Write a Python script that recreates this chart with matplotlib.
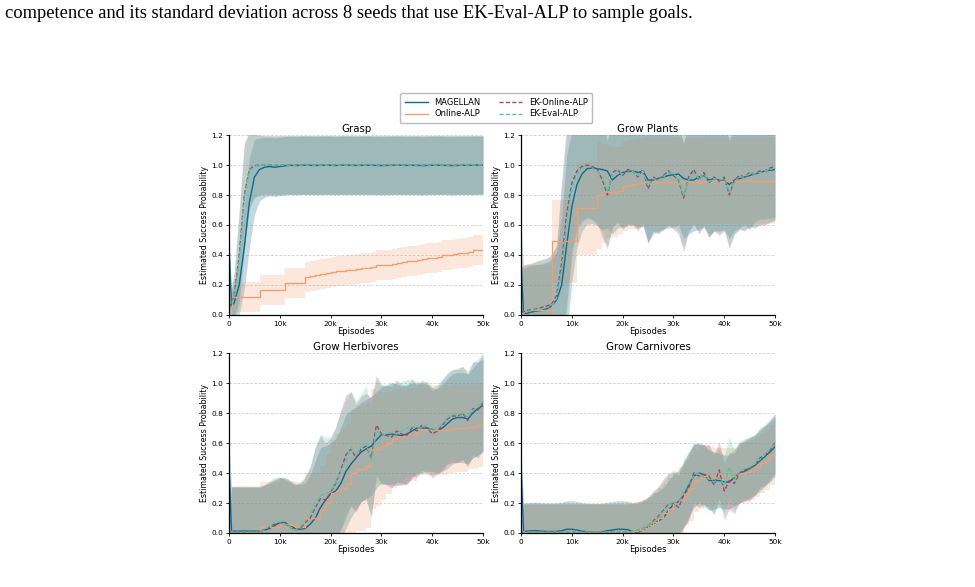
import matplotlib
matplotlib.use('Agg')
import matplotlib.pyplot as plt
from matplotlib.lines import Line2D
from matplotlib.ticker import FixedLocator, FuncFormatter

"""
Success probability curves for the four goal families
"""

CAPTION = ('competence and its standard deviation across 8 seeds '
           'that use EK-Eval-ALP to sample goals.')

METHODS = ['MAGELLAN', 'Online-ALP', 'EK-Online-ALP', 'EK-Eval-ALP']
PANELS = ['Grasp', 'Grow Plants', 'Grow Herbivores', 'Grow Carnivores']

# episodes (sampled every 1k, plus the first half-k)
EPISODES = [0, 500] + list(range(1000, 50001, 1000))

# ---------------- Grasp ----------------
GRASP_MAG = [0.45, 0.06,
             0.08, 0.20, 0.45, 0.75, 0.92, 0.97, 0.985, 0.99, 0.985, 0.99,
             0.995, 0.998, 0.997, 0.998, 0.999, 0.998, 0.997, 0.998, 0.999, 0.998,
             0.997, 0.998, 0.999, 0.998, 0.997, 0.998, 0.999, 0.998, 0.997, 0.996,
             0.997, 0.998, 0.999, 0.998, 0.997, 0.998, 0.997, 0.996, 0.997, 0.998,
             0.999, 0.998, 0.997, 0.996, 0.997, 0.998, 0.997, 0.998, 0.999, 0.998]
GRASP_MAG_STD = [0.15, 0.10,
                 0.12, 0.20, 0.28, 0.30, 0.25, 0.21, 0.20, 0.195, 0.195, 0.195] + [0.195] * 40
GRASP_ONL = [0.05, 0.12,
             0.12, 0.12, 0.12, 0.12, 0.12, 0.165, 0.165, 0.165, 0.165, 0.165,
             0.215, 0.215, 0.215, 0.215, 0.255, 0.26, 0.265, 0.27, 0.28, 0.285,
             0.29, 0.295, 0.30, 0.30, 0.305, 0.31, 0.315, 0.32, 0.33, 0.33,
             0.335, 0.34, 0.345, 0.355, 0.36, 0.36, 0.365, 0.375, 0.38, 0.38,
             0.385, 0.40, 0.40, 0.405, 0.41, 0.415, 0.42, 0.43, 0.432, 0.435]
GRASP_ONL_STD = [0.05, 0.10] + [0.10] * 50
GRASP_EKO = [0.05, 0.08,
             0.13, 0.40, 0.80, 0.97, 0.995, 1.0, 1.0, 1.0, 1.0, 1.0] + [1.0] * 40
GRASP_EKO_STD = [0.05, 0.10,
                 0.15, 0.30, 0.35, 0.25, 0.21, 0.20, 0.195, 0.195, 0.195, 0.195] + [0.195] * 40
GRASP_EKE = [0.04, 0.07,
             0.12, 0.37, 0.78, 0.96, 0.99, 0.998, 1.0, 1.0, 1.0, 1.0] + [1.0] * 40
GRASP_EKE_STD = [0.05, 0.10,
                 0.15, 0.30, 0.35, 0.26, 0.21, 0.20, 0.195, 0.195, 0.195, 0.195] + [0.195] * 40

# ---------------- Grow Plants ----------------
PLANTS_MAG = [0.35, 0.01,
              0.01, 0.02, 0.025, 0.03, 0.04, 0.06, 0.10, 0.20, 0.47, 0.72,
              0.87, 0.94, 0.975, 0.98, 0.975, 0.97, 0.96, 0.90, 0.93, 0.95,
              0.955, 0.96, 0.95, 0.96, 0.90, 0.90, 0.91, 0.92, 0.93, 0.935,
              0.94, 0.91, 0.90, 0.90, 0.92, 0.93, 0.90, 0.91, 0.90, 0.90,
              0.87, 0.90, 0.91, 0.92, 0.93, 0.94, 0.95, 0.96, 0.965, 0.97]
PLANTS_MAG_STD = [0.25, 0.30,
                  0.31, 0.31, 0.31, 0.31, 0.31, 0.31, 0.32, 0.45, 0.60, 0.50,
                  0.42, 0.38, 0.37, 0.37, 0.38, 0.40, 0.38, 0.36, 0.35, 0.36,
                  0.36, 0.36, 0.36, 0.37, 0.42, 0.36, 0.35, 0.35, 0.35, 0.35,
                  0.34, 0.40, 0.36, 0.34, 0.35, 0.34, 0.38, 0.35, 0.34, 0.33,
                  0.36, 0.34, 0.33, 0.32, 0.36, 0.32, 0.31, 0.32, 0.32, 0.32]
PLANTS_ONL = [0.02, 0.03,
              0.03, 0.03, 0.03, 0.03, 0.03, 0.49, 0.49, 0.49, 0.49, 0.49,
              0.71, 0.71, 0.71, 0.71, 0.80, 0.81, 0.82, 0.82, 0.83, 0.86,
              0.87, 0.875, 0.88, 0.885, 0.89, 0.89, 0.89, 0.89, 0.89, 0.89,
              0.89, 0.89, 0.89, 0.89, 0.89, 0.895, 0.895, 0.895, 0.895, 0.895,
              0.895, 0.895, 0.895, 0.895, 0.895, 0.895, 0.895, 0.895, 0.895, 0.895]
PLANTS_ONL_STD = [0.30, 0.30,
                  0.30, 0.30, 0.30, 0.30, 0.30, 0.28, 0.28, 0.28, 0.28, 0.28,
                  0.31, 0.31, 0.31, 0.31, 0.36, 0.33, 0.31, 0.30, 0.29, 0.30,
                  0.30, 0.30, 0.30, 0.30, 0.30, 0.30, 0.30, 0.30, 0.30, 0.30] + [0.29] * 20
PLANTS_EKO = [0.02, 0.02,
              0.03, 0.035, 0.04, 0.05, 0.06, 0.07, 0.13, 0.35, 0.68, 0.88,
              0.96, 0.99, 1.0, 0.99, 0.97, 0.90, 0.80, 0.95, 0.97, 0.93,
              0.97, 0.96, 0.92, 0.97, 0.84, 0.92, 0.90, 0.93, 0.96, 0.93,
              0.90, 0.78, 0.92, 0.97, 0.90, 0.95, 0.88, 0.92, 0.89, 0.92,
              0.80, 0.90, 0.93, 0.92, 0.95, 0.94, 0.96, 0.96, 0.98, 0.99]
PLANTS_EKO_STD = [0.30, 0.31,
                  0.31, 0.31, 0.32, 0.32, 0.32, 0.33, 0.34, 0.55, 0.60, 0.45,
                  0.38, 0.36, 0.35, 0.35, 0.36, 0.38, 0.36, 0.36, 0.35, 0.36] + [0.36] * 30
PLANTS_EKE = [0.01, 0.01,
              0.02, 0.03, 0.035, 0.04, 0.05, 0.06, 0.11, 0.30, 0.62, 0.84,
              0.94, 0.98, 0.99, 0.98, 0.96, 0.93, 0.82, 0.94, 0.96, 0.94,
              0.95, 0.96, 0.93, 0.96, 0.86, 0.91, 0.90, 0.92, 0.95, 0.94,
              0.91, 0.80, 0.90, 0.95, 0.91, 0.94, 0.89, 0.91, 0.90, 0.91,
              0.82, 0.89, 0.92, 0.92, 0.94, 0.94, 0.95, 0.96, 0.97, 0.98]
PLANTS_EKE_STD = [0.30, 0.31,
                  0.31, 0.31, 0.32, 0.32, 0.32, 0.33, 0.35, 0.55, 0.60, 0.46,
                  0.38, 0.36, 0.35, 0.35, 0.36, 0.37, 0.36, 0.36, 0.35, 0.36] + [0.35] * 30

# ---------------- Grow Herbivores ----------------
HERB_MAG = [0.45, 0.01,
            0.012, 0.012, 0.013, 0.012, 0.012, 0.012, 0.02, 0.03, 0.05, 0.07,
            0.07, 0.05, 0.03, 0.025, 0.03, 0.06, 0.10, 0.17, 0.22, 0.26,
            0.28, 0.33, 0.41, 0.46, 0.50, 0.54, 0.56, 0.58, 0.62, 0.655,
            0.655, 0.66, 0.655, 0.65, 0.66, 0.68, 0.70, 0.70, 0.70, 0.69,
            0.68, 0.70, 0.73, 0.76, 0.77, 0.77, 0.76, 0.80, 0.83, 0.85]
HERB_MAG_STD = [0.15, 0.30] + [0.30] * 15 + [
    0.33, 0.38, 0.40, 0.36, 0.34,
    0.35, 0.37, 0.38, 0.36, 0.34, 0.33, 0.33, 0.33, 0.32, 0.32,
    0.33, 0.34, 0.34, 0.33, 0.33, 0.32, 0.30, 0.30, 0.29, 0.28,
    0.28, 0.29, 0.30, 0.30, 0.30, 0.30, 0.30, 0.30, 0.31, 0.31]
HERB_ONL = [0.01, 0.005,
            0.005, 0.005, 0.005, 0.005, 0.005, 0.04, 0.04, 0.04, 0.04, 0.06,
            0.06, 0.05, 0.04, 0.04, 0.10, 0.10, 0.10, 0.15, 0.20, 0.27,
            0.28, 0.30, 0.33, 0.40, 0.43, 0.43, 0.45, 0.56, 0.56, 0.58,
            0.60, 0.63, 0.64, 0.64, 0.655, 0.66, 0.69, 0.69, 0.69, 0.69,
            0.69, 0.69, 0.69, 0.70, 0.70, 0.70, 0.71, 0.71, 0.72, 0.725]
HERB_ONL_STD = [0.30, 0.30] + [0.30] * 18 + [
    0.33, 0.35, 0.38, 0.40, 0.40, 0.42, 0.42, 0.42, 0.42, 0.40, 0.38, 0.36,
    0.34, 0.33, 0.32, 0.31, 0.31, 0.31, 0.30, 0.30, 0.30, 0.30,
    0.30, 0.30, 0.29, 0.29, 0.29, 0.29, 0.28, 0.28, 0.28, 0.28]
HERB_EKO = [0.01, 0.005,
            0.005, 0.005, 0.005, 0.005, 0.005, 0.005, 0.02, 0.04, 0.06, 0.07,
            0.06, 0.04, 0.02, 0.03, 0.07, 0.10, 0.17, 0.23, 0.22, 0.27,
            0.33, 0.42, 0.52, 0.56, 0.50, 0.56, 0.58, 0.50, 0.72, 0.66,
            0.65, 0.64, 0.68, 0.66, 0.65, 0.70, 0.68, 0.72, 0.70, 0.66,
            0.68, 0.72, 0.76, 0.78, 0.78, 0.80, 0.75, 0.83, 0.82, 0.87]
HERB_EKO_STD = [0.10, 0.30] + [0.30] * 15 + [
    0.34, 0.40, 0.42, 0.38, 0.36,
    0.37, 0.40, 0.40, 0.38, 0.36, 0.35, 0.35, 0.40, 0.33, 0.33,
    0.33, 0.34, 0.34, 0.33, 0.33, 0.32, 0.31, 0.30, 0.30, 0.29,
    0.29, 0.30, 0.30, 0.31, 0.31, 0.31, 0.31, 0.31, 0.32, 0.32]
HERB_EKE = [0.01, 0.005,
            0.005, 0.005, 0.005, 0.005, 0.005, 0.005, 0.02, 0.05, 0.07, 0.075,
            0.06, 0.04, 0.02, 0.04, 0.08, 0.12, 0.19, 0.25, 0.26, 0.28,
            0.34, 0.42, 0.48, 0.57, 0.52, 0.57, 0.60, 0.48, 0.68, 0.65,
            0.66, 0.67, 0.66, 0.68, 0.70, 0.71, 0.70, 0.70, 0.72, 0.68,
            0.70, 0.73, 0.77, 0.79, 0.79, 0.80, 0.77, 0.82, 0.84, 0.88]
HERB_EKE_STD = [0.10, 0.30] + [0.30] * 15 + [
    0.33, 0.39, 0.41, 0.38, 0.36,
    0.37, 0.39, 0.40, 0.38, 0.36, 0.36, 0.38, 0.36, 0.34, 0.33,
    0.33, 0.34, 0.33, 0.33, 0.32, 0.32, 0.31, 0.30, 0.30, 0.29,
    0.29, 0.30, 0.30, 0.30, 0.31, 0.31, 0.31, 0.32, 0.32, 0.33]

# ---------------- Grow Carnivores ----------------
CARN_MAG = [0.45, 0.01,
            0.012, 0.015, 0.015, 0.012, 0.01, 0.01, 0.01, 0.015, 0.025, 0.025,
            0.02, 0.012, 0.008, 0.005, 0.005, 0.008, 0.015, 0.02, 0.025, 0.025,
            0.022, 0.008, 0.005, 0.02, 0.04, 0.06, 0.08, 0.10, 0.15, 0.19,
            0.21, 0.25, 0.32, 0.38, 0.40, 0.39, 0.35, 0.35, 0.35, 0.34,
            0.34, 0.37, 0.40, 0.41, 0.43, 0.45, 0.48, 0.51, 0.54, 0.575]
CARN_MAG_STD = [0.10, 0.19] + [0.19] * 25 + [
    0.20, 0.20, 0.20, 0.20, 0.20,
    0.21, 0.22, 0.22, 0.21, 0.20, 0.20, 0.20, 0.19, 0.18, 0.18,
    0.18, 0.19, 0.20, 0.20, 0.20, 0.20, 0.20, 0.20, 0.20, 0.20]
CARN_ONL = [0.01, 0.005] + [0.005] * 20 + [
    0.008, 0.01, 0.02, 0.03, 0.05, 0.07, 0.10, 0.13, 0.16, 0.20,
    0.22, 0.27, 0.30, 0.35, 0.37, 0.38, 0.38, 0.38, 0.38, 0.38,
    0.38, 0.38, 0.40, 0.41, 0.42, 0.44, 0.47, 0.49, 0.52, 0.55]
CARN_ONL_STD = [0.19, 0.19] + [0.19] * 25 + [
    0.20, 0.20, 0.20, 0.21, 0.21,
    0.22, 0.22, 0.22, 0.21, 0.21, 0.20, 0.20, 0.19, 0.19, 0.19,
    0.19, 0.19, 0.20, 0.20, 0.20, 0.20, 0.20, 0.20, 0.20, 0.20]
CARN_EKO = [0.01, 0.005] + [0.005] * 20 + [
    0.005, 0.01, 0.02, 0.03, 0.05, 0.08, 0.11, 0.15, 0.19, 0.20,
    0.17, 0.25, 0.30, 0.40, 0.38, 0.39, 0.38, 0.32, 0.42, 0.28,
    0.35, 0.33, 0.40, 0.42, 0.43, 0.45, 0.50, 0.52, 0.55, 0.60]
CARN_EKO_STD = [0.05, 0.19] + [0.19] * 25 + [
    0.20, 0.20, 0.21, 0.21, 0.20,
    0.22, 0.21, 0.22, 0.20, 0.21, 0.20, 0.21, 0.20, 0.19, 0.19,
    0.19, 0.20, 0.20, 0.20, 0.21, 0.20, 0.20, 0.20, 0.20, 0.20]
CARN_EKE = [0.01, 0.005] + [0.005] * 20 + [
    0.005, 0.01, 0.02, 0.03, 0.05, 0.07, 0.10, 0.14, 0.18, 0.21,
    0.19, 0.27, 0.33, 0.38, 0.40, 0.37, 0.36, 0.34, 0.37, 0.32,
    0.44, 0.35, 0.41, 0.43, 0.44, 0.46, 0.49, 0.52, 0.56, 0.59]
CARN_EKE_STD = [0.05, 0.19] + [0.19] * 25 + [
    0.20, 0.20, 0.20, 0.21, 0.21,
    0.21, 0.22, 0.21, 0.21, 0.20, 0.20, 0.20, 0.20, 0.19, 0.19,
    0.20, 0.20, 0.20, 0.20, 0.20, 0.20, 0.20, 0.20, 0.20, 0.20]

PANEL_DATA = {
    'Grasp': [(GRASP_MAG, GRASP_MAG_STD), (GRASP_ONL, GRASP_ONL_STD),
              (GRASP_EKO, GRASP_EKO_STD), (GRASP_EKE, GRASP_EKE_STD)],
    'Grow Plants': [(PLANTS_MAG, PLANTS_MAG_STD), (PLANTS_ONL, PLANTS_ONL_STD),
                    (PLANTS_EKO, PLANTS_EKO_STD), (PLANTS_EKE, PLANTS_EKE_STD)],
    'Grow Herbivores': [(HERB_MAG, HERB_MAG_STD), (HERB_ONL, HERB_ONL_STD),
                        (HERB_EKO, HERB_EKO_STD), (HERB_EKE, HERB_EKE_STD)],
    'Grow Carnivores': [(CARN_MAG, CARN_MAG_STD), (CARN_ONL, CARN_ONL_STD),
                        (CARN_EKO, CARN_EKO_STD), (CARN_EKE, CARN_EKE_STD)],
}

COLOURS = {'MAGELLAN': '#0e6a8f', 'Online-ALP': '#f0a070',
           'EK-Online-ALP': '#a8466f', 'EK-Eval-ALP': '#4ec9a0'}
STYLES = {'MAGELLAN': '-', 'Online-ALP': '-',
          'EK-Online-ALP': (0, (3, 1.6)), 'EK-Eval-ALP': (0, (3, 1.6))}


def _k_fmt(x, pos):
    """ tick label 10000 -> 10k """
    if x == 0:
        return '0'
    return '{0}k'.format(int(x / 1000))


def _draw_panel(ax, name):
    """
    One goal family
    :param ax: axis
    :param name: panel title (str)
    """
    for method, (mean, std) in zip(METHODS, PANEL_DATA[name]):
        lo = [m - s for m, s in zip(mean, std)]
        hi = [m + s for m, s in zip(mean, std)]
        step = 'post' if method == 'Online-ALP' else None
        ax.fill_between(EPISODES, lo, hi, color=COLOURS[method], alpha=0.25,
                        lw=0, step=step)
    for method, (mean, std) in zip(METHODS, PANEL_DATA[name]):
        ds = 'steps-post' if method == 'Online-ALP' else 'default'
        ax.plot(EPISODES, mean, color=COLOURS[method], ls=STYLES[method],
                lw=1.0, drawstyle=ds)

    ax.set_xlim(0, 50000)
    ax.set_ylim(0, 1.2)
    ax.xaxis.set_major_locator(FixedLocator([0, 10000, 20000, 30000, 40000, 50000]))
    ax.xaxis.set_major_formatter(FuncFormatter(_k_fmt))
    ax.yaxis.set_major_locator(FixedLocator([0.0, 0.2, 0.4, 0.6, 0.8, 1.0, 1.2]))
    ax.yaxis.set_major_formatter(FuncFormatter(lambda v, p: '{0:.1f}'.format(v)))
    ax.yaxis.grid(True, ls=(0, (3, 2)), color='#cfcfcf', lw=0.6)
    ax.set_axisbelow(True)
    ax.tick_params(labelsize=5.3, length=2.5, width=0.6, pad=1.5)
    for side in ['top', 'right']:
        ax.spines[side].set_visible(False)
    for side in ['left', 'bottom']:
        ax.spines[side].set_linewidth(0.9)
    ax.set_title(name, fontsize=7.4, pad=2)
    ax.set_ylabel('Estimated Success Probability', fontsize=5.7, labelpad=2)
    ax.set_xlabel('Episodes', fontsize=6, labelpad=0.5)


fig = plt.figure(figsize=(9.75, 5.87), dpi=100)
positions = [(0.2349, 0.4634), (0.5344, 0.4634), (0.2349, 0.0920), (0.5344, 0.0920)]
for name, (left, bottom) in zip(PANELS, positions):
    ax = fig.add_axes([left, bottom, 0.2605, 0.3066])
    _draw_panel(ax, name)

handles = [Line2D([], [], color=COLOURS[m], ls=STYLES[m], lw=1.0) for m in METHODS]
fig.legend(handles, METHODS, loc='upper center', bbox_to_anchor=(0.509, 0.848),
           ncol=2, fontsize=6, frameon=True, fancybox=True, framealpha=1,
           edgecolor='#bbbbbb', handlelength=2.8, columnspacing=2.2,
           borderpad=0.5, labelspacing=0.35)

fig.text(5 / 975., 1 - 14 / 587., CAPTION, family='Liberation Serif',
         fontsize=13.3, va='center', ha='left')

fig.savefig('out.png', dpi=100)
plt.close(fig)
